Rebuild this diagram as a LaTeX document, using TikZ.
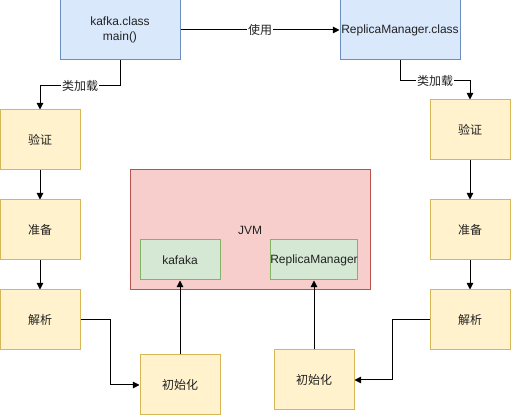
\documentclass[tikz,border=0pt]{standalone}
\usepackage{fontspec}
\setmainfont{Liberation Sans}
\newfontfamily\cjk{Noto Sans CJK SC}
\usetikzlibrary{arrows.meta}
\definecolor{bfill}{HTML}{DAE8FC}\definecolor{bdraw}{HTML}{6C8EBF}
\definecolor{yfill}{HTML}{FFF2CC}\definecolor{ydraw}{HTML}{D6B656}
\definecolor{rfill}{HTML}{F8CECC}\definecolor{rdraw}{HTML}{B85450}
\definecolor{gfill}{HTML}{D5E8D4}\definecolor{gdraw}{HTML}{82B366}
\definecolor{txt}{HTML}{222222}
\begin{document}
\begin{tikzpicture}[x=0.75pt,y=-0.75pt,
  every node/.style={font=\fontsize{9}{11}\selectfont, text=txt},
  box/.style={draw, line width=0.75pt, rectangle, inner sep=0pt, align=center},
  bluebox/.style={box, fill=bfill, draw=bdraw, minimum width=90pt, minimum height=45pt},
  yelbox/.style={box, fill=yfill, draw=ydraw, minimum width=60pt, minimum height=45pt},
  jvmbox/.style={box, fill=rfill, draw=rdraw, minimum width=180pt, minimum height=90pt},
  grnbox/.style={box, fill=gfill, draw=gdraw, minimum width=60pt, minimum height=30pt},
  arr/.style={draw=black, line width=0.75pt, -{Triangle[length=5pt,width=5pt]}},
  lab/.style={fill=white, inner sep=0.5pt}]
\useasboundingbox (0,0) rectangle (511,416);
\node[bluebox] (kafka) at (120,30) {kafka.class\\main()};
\node[bluebox] (rmc) at (400,30) {ReplicaManager.class};
\node[yelbox] (lv) at (40,140) {\cjk 验证};
\node[yelbox] (lz) at (40,230) {\cjk 准备};
\node[yelbox] (lp) at (40,320) {\cjk 解析};
\node[yelbox] (li) at (180,385) {\cjk 初始化};
\node[yelbox] (rv) at (470,130) {\cjk 验证};
\node[yelbox] (rz) at (470,230) {\cjk 准备};
\node[yelbox] (rp) at (470,320) {\cjk 解析};
\node[yelbox] (ri) at (314,380) {\cjk 初始化};
\node[jvmbox] (jvm) at (250,230) {JVM};
\node[grnbox] (kaf) at (180,260) {kafaka};
\node[grnbox] (rmg) at (314,260) {ReplicaManager};
\draw[arr] (kafka.east) -- node[lab] {\cjk 使用} (rmc.west);
\draw[arr] (kafka.south) -- ++(0,25) -| node[lab,pos=0.25] {\cjk 类加载} (lv.north);
\draw[arr] (rmc.south) -- ++(0,20) -| node[lab,pos=0.25] {\cjk 类加载} (rv.north);
\draw[arr] (lv) -- (lz);
\draw[arr] (lz) -- (lp);
\draw[arr] (rv) -- (rz);
\draw[arr] (rz) -- (rp);
\draw[arr] (lp.east) -- ++(30,0) |- (li.west);
\draw[arr] (rp.west) -- ++(-37,0) |- (ri.east);
\draw[arr] (li.north) -- (kaf.south);
\draw[arr] (ri.north) -- (rmg.south);
\end{tikzpicture}
\end{document}
